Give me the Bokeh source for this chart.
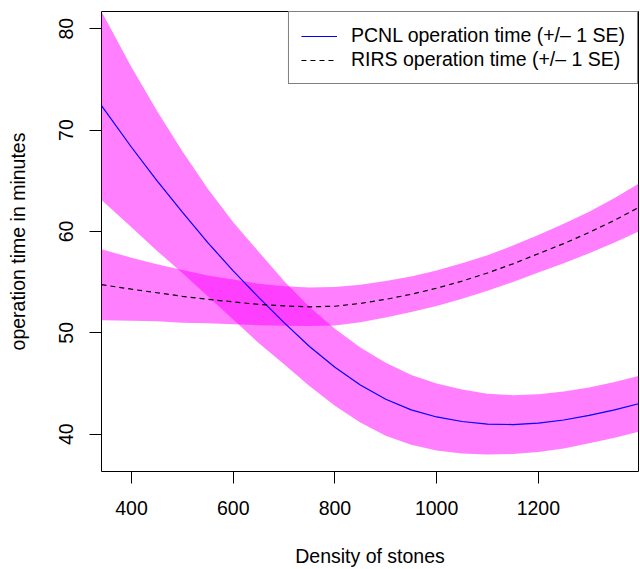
from bokeh.plotting import figure
from bokeh.models import Range1d, FixedTicker, Legend, LegendItem, ColumnDataSource
from bokeh.embed import file_html
from bokeh.resources import INLINE

# ---- data ----
density = [341, 400, 450, 500, 550, 600, 650, 700, 750, 800, 850, 900, 950,
           1000, 1050, 1100, 1150, 1200, 1250, 1300, 1350, 1397]
pcnl_fit = [72.4, 68.3, 65.0, 61.9, 58.9, 56.1, 53.5, 51.0, 48.65, 46.6, 44.85,
            43.45, 42.4, 41.7, 41.25, 41.0, 40.95, 41.1, 41.4, 41.85, 42.4, 43.0]
pcnl_se = [9.3, 7.9, 6.9, 6.0, 5.3, 4.8, 4.5, 4.1, 3.9, 3.8, 3.7, 3.6, 3.45,
           3.3, 3.15, 3.0, 2.9, 2.85, 2.8, 2.75, 2.75, 2.75]
rirs_fit = [54.75, 54.3, 53.95, 53.6, 53.3, 53.05, 52.8, 52.65, 52.56, 52.62, 52.9,
            53.3, 53.8, 54.4, 55.1, 55.9, 56.8, 57.8, 58.8, 59.9, 61.1, 62.35]
rirs_se = [3.5, 3.1, 2.8, 2.6, 2.35, 2.2, 2.05, 1.95, 1.9, 1.9, 1.85, 1.8, 1.75,
           1.75, 1.75, 1.75, 1.8, 1.85, 1.95, 2.05, 2.2, 2.35]
x_ticks = [400, 600, 800, 1000, 1200]
y_ticks = [40, 50, 60, 70, 80]
legend_labels = ["PCNL operation time (+/\u2013 1 SE)", "RIRS operation time (+/\u2013 1 SE)"]
x_title = "Density of stones"
y_title = "operation time in minutes"

src = ColumnDataSource(dict(
    x=density,
    p_fit=pcnl_fit,
    p_lo=[f - s for f, s in zip(pcnl_fit, pcnl_se)],
    p_hi=[f + s for f, s in zip(pcnl_fit, pcnl_se)],
    r_fit=rirs_fit,
    r_lo=[f - s for f, s in zip(rirs_fit, rirs_se)],
    r_hi=[f + s for f, s in zip(rirs_fit, rirs_se)],
))

FONT = "Liberation Sans"
FS = "19.5px"

p = figure(width=640, height=569, output_backend="svg", toolbar_location=None,
           title=None,
           x_range=Range1d(341, 1397), y_range=Range1d(36.32, 81.69),
           min_border_left=101, min_border_right=2, min_border_top=11,
           min_border_bottom=93)

p.background_fill_color = "white"
p.border_fill_color = "white"
p.outline_line_color = "black"
p.outline_line_width = 1
p.xgrid.visible = False
p.ygrid.visible = False

# bands
p.varea(x="x", y1="p_lo", y2="p_hi", source=src, fill_color="#FF00FF", fill_alpha=0.5)
p.varea(x="x", y1="r_lo", y2="r_hi", source=src, fill_color="#FF00FF", fill_alpha=0.5)

# fits
l1 = p.line(x="x", y="p_fit", source=src, line_color="#0000FF", line_width=1.2)
l2 = p.line(x="x", y="r_fit", source=src, line_color="black", line_width=1.2,
            line_dash="5 4")

# axes
for ax in (p.xaxis[0], p.yaxis[0]):
    ax.axis_line_color = None
    ax.major_tick_line_color = "black"
    ax.major_tick_in = 0
    ax.major_tick_out = 12
    ax.minor_tick_line_color = None
    ax.major_label_text_font = FONT
    ax.major_label_text_font_size = FS
    ax.major_label_text_color = "black"
    ax.axis_label_text_font = FONT
    ax.axis_label_text_font_size = FS
    ax.axis_label_text_font_style = "normal"
    ax.axis_label_text_color = "black"

p.xaxis[0].ticker = FixedTicker(ticks=x_ticks)
p.yaxis[0].ticker = FixedTicker(ticks=y_ticks)
p.yaxis[0].major_label_orientation = "vertical"
p.xaxis[0].major_label_standoff = 17
p.yaxis[0].major_label_standoff = 16
p.xaxis[0].axis_label = x_title
p.yaxis[0].axis_label = y_title
p.xaxis[0].axis_label_standoff = 27
p.yaxis[0].axis_label_standoff = 28

legend = Legend(items=[LegendItem(label=legend_labels[0], renderers=[l1]),
                       LegendItem(label=legend_labels[1], renderers=[l2])],
                location="top_right", margin=0, padding=12, spacing=1,
                glyph_width=36, glyph_height=22, label_height=22,
                label_standoff=14,
                label_text_font=FONT, label_text_font_size=FS,
                label_text_color="black",
                border_line_color="black", border_line_width=1,
                background_fill_color="white", background_fill_alpha=1.0)
p.add_layout(legend, "center")

open("out.html", "w").write(file_html(p, INLINE))
